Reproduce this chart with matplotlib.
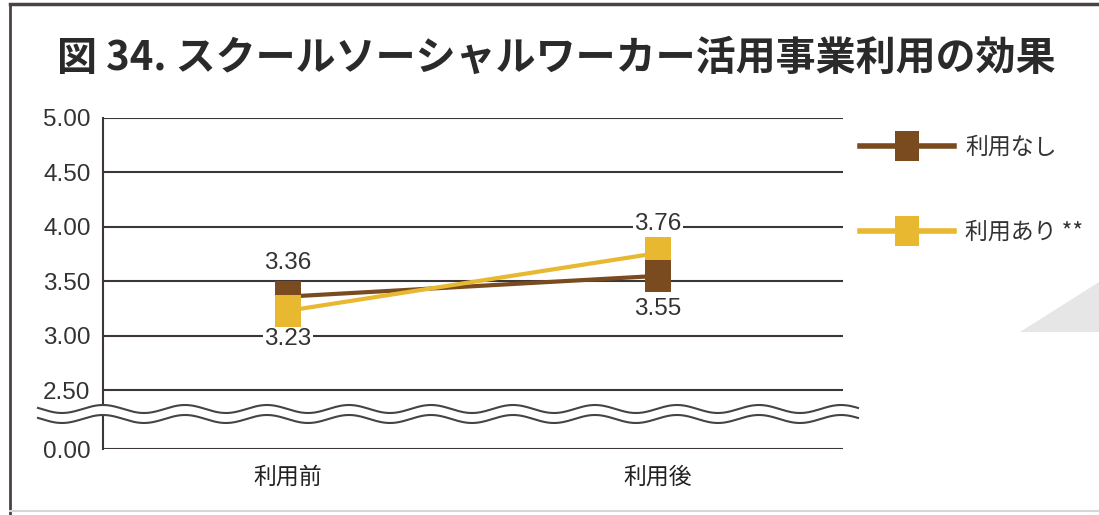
import numpy as np
import matplotlib.pyplot as plt
from matplotlib.lines import Line2D
from matplotlib.patches import Polygon
from matplotlib.ticker import NullLocator

plt.rcParams['font.family'] = ['Noto Sans CJK JP', 'DejaVu Sans']

# data
periods = ['利用前', '利用後']
without_use = [3.36, 3.55]
with_use = [3.23, 3.76]
series_names = ['利用なし', '利用あり **']
yticks = [0.0, 2.5, 3.0, 3.5, 4.0, 4.5, 5.0]
title = '図 34. スクールソーシャルワーカー活用事業利用の効果'

BROWN = '#7a4b1f'
YELLOW = '#e8b831'
GRID = '#3d3636'
TEXT = '#333333'

W, H = 1099, 515
GAP = 0.54  # the 0 - 2.5 band is squeezed into this much of the upper scale

# slightly tall square used as marker
BOX = [(-0.42, -0.5), (0.42, -0.5), (0.42, 0.5), (-0.42, 0.5), (-0.42, -0.5)]
MS = 23


def fwd(v):
    v = np.asarray(v, float)
    return np.where(v >= 2.5, v, 2.5 - GAP * (2.5 - v) / 2.5)


def inv(u):
    u = np.asarray(u, float)
    return np.where(u >= 2.5, u, 2.5 - (2.5 - u) * 2.5 / GAP)


fig = plt.figure(figsize=(W / 100, H / 100), dpi=100)

# page frame and the grey corner shape
fig.add_artist(Line2D([10 / W, 10 / W], [0, 1 - 4 / H], transform=fig.transFigure,
                      color='#4a4242', lw=2))
fig.add_artist(Line2D([10 / W, 1], [1 - 4 / H, 1 - 4 / H], transform=fig.transFigure,
                      color='#4a4242', lw=2.5))
fig.add_artist(Line2D([10 / W, 1], [1 - 511 / H, 1 - 511 / H], transform=fig.transFigure,
                      color='#d6d6d6', lw=1.5))
fig.add_artist(Polygon([(1020 / W, 1 - 332 / H), (1, 1 - 282 / H), (1, 1 - 332 / H)],
                       closed=True, transform=fig.transFigure, fc='#e6e6e6', ec='none'))

fig.text(57 / W, 1 - 58 / H, title, fontsize=28.8, fontweight='bold', color='#2a2a2a',
         ha='left', va='center')

ax = fig.add_axes([103 / W, 1 - 449 / H, 740 / W, 331 / H])
ax.set_yscale('function', functions=(fwd, inv))
ax.set_ylim(0, 5)
ax.set_xlim(-0.5, 1.5)
ax.yaxis.set_minor_locator(NullLocator())

ax.set_yticks(yticks)
ax.set_yticklabels([f'{t:.2f}' for t in yticks], family='Liberation Sans',
                   fontsize=17.5, color=TEXT)
ax.set_xticks(range(len(periods)))
ax.set_xticklabels(periods, fontsize=16.5, color='#222222')
ax.tick_params(axis='y', length=0, pad=9)
ax.tick_params(axis='x', length=0, pad=12)
ax.grid(axis='y', color=GRID, lw=1.5)
for side in ['top', 'right', 'bottom']:
    ax.spines[side].set_visible(False)
ax.spines['left'].set_color(GRID)
ax.spines['left'].set_linewidth(1.5)

x = np.arange(len(periods))
ax.plot(x, without_use, color=BROWN, lw=3, zorder=3)
ax.plot(x, with_use, color=YELLOW, lw=3, zorder=3.1)
# markers: yellow sits on top before, brown on top after
ax.plot(x[0], without_use[0], marker=BOX, color=BROWN, ms=MS, mew=0, zorder=4)
ax.plot(x[0], with_use[0], marker=BOX, color=YELLOW, ms=MS, mew=0, zorder=5)
ax.plot(x[1], with_use[1], marker=BOX, color=YELLOW, ms=MS, mew=0, zorder=4)
ax.plot(x[1], without_use[1], marker=BOX, color=BROWN, ms=MS, mew=0, zorder=5)

label_kw = dict(textcoords='offset points', ha='center', va='center',
                family='Liberation Sans', fontsize=17.5, color=TEXT, zorder=6,
                bbox=dict(fc='white', ec='none', pad=1))
ax.annotate(f'{without_use[0]:.2f}', (x[0], without_use[0]), xytext=(0, 24), **label_kw)
ax.annotate(f'{with_use[0]:.2f}', (x[0], with_use[0]), xytext=(0, -20.5), **label_kw)
ax.annotate(f'{with_use[1]:.2f}', (x[1], with_use[1]), xytext=(0, 21), **label_kw)
ax.annotate(f'{without_use[1]:.2f}', (x[1], without_use[1]), xytext=(0, -24), **label_kw)

# wavy axis break between 2.50 and 0.00
t = np.linspace(38, 858, 800)
wave = 4 * np.cos(2 * np.pi * (t - 103) / 82)
upper = 409 - wave
lower = 419 - wave
fx = t / W
band = np.concatenate([np.column_stack([fx, 1 - upper / H]),
                       np.column_stack([fx[::-1], 1 - lower[::-1] / H])])
fig.add_artist(Polygon(band, closed=True, transform=fig.transFigure, fc='white', ec='none'))
for yy in (upper, lower):
    fig.add_artist(Line2D(fx, 1 - yy / H, transform=fig.transFigure, color='#444444', lw=1.5))

handles = [Line2D([], [], color=BROWN, lw=4, marker=BOX, ms=21, mew=0),
           Line2D([], [], color=YELLOW, lw=4, marker=BOX, ms=21, mew=0)]
leg = ax.legend(handles, series_names, loc='upper left',
                bbox_to_anchor=(860 / W, 1 - 136 / H), bbox_transform=fig.transFigure,
                frameon=False, fontsize=16.5, handlelength=4.1, handletextpad=0.5,
                labelspacing=2.7, borderpad=0, borderaxespad=0)
for txt in leg.get_texts():
    txt.set_color(TEXT)

fig.savefig('out.png', dpi=100)
